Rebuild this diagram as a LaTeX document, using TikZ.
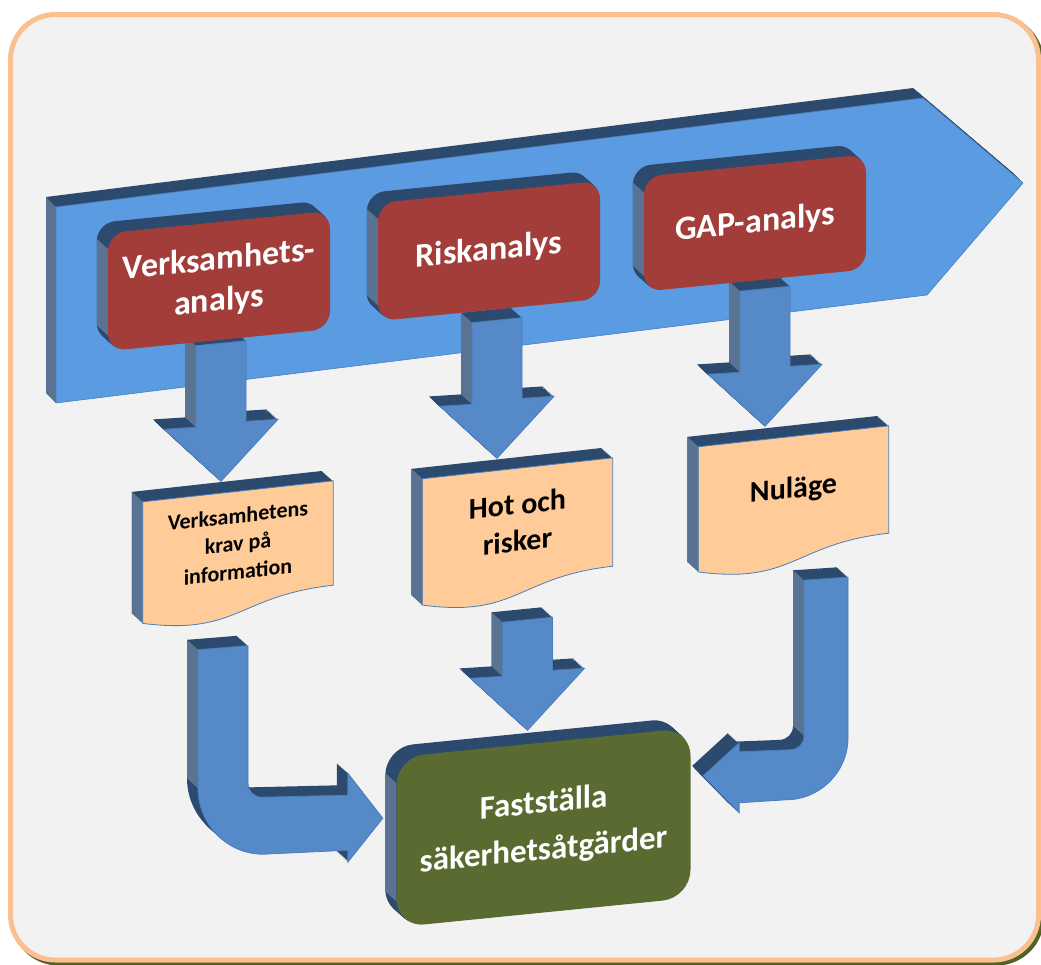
\documentclass[tikz,border=0pt]{standalone}
\usepackage{fontspec}
\setmainfont{Carlito}
\usetikzlibrary{calc}
\definecolor{ramOrange}{HTML}{FAC090}
\definecolor{ramGra}{HTML}{F2F2F2}
\definecolor{ramSkugga}{HTML}{4F6228}
\definecolor{storBla}{HTML}{5B9BE1}
\definecolor{pilBla}{HTML}{5689C8}
\definecolor{kantBla}{HTML}{4A7EBB}
\definecolor{djupBla}{HTML}{2C4A6E}
\definecolor{sidaBla}{HTML}{5B7393}
\definecolor{rodRuta}{HTML}{A23D3A}
\definecolor{gronRuta}{HTML}{596B30}
\definecolor{dokGul}{HTML}{FFCC99}
\pgfdeclarelayer{bakgrund}
\pgfdeclarelayer{djup}
\pgfsetlayers{bakgrund,djup,main}
\tikzset{
  ruta/.style={rectangle, rounded corners=18pt, fill=rodRuta, text=white,
    minimum width=222pt, minimum height=118pt, inner sep=0pt, align=center,
    font=\fontsize{34}{41}\selectfont\bfseries, yslant=0.1},
  mal/.style={ruta, fill=gronRuta, rounded corners=28pt, minimum width=294pt,
    minimum height=170pt, font=\fontsize{33}{47}\selectfont\bfseries},
  dokument/.style={rectangle, minimum width=190pt, inner sep=0pt, align=center,
    font=\fontsize{22}{28}\selectfont\bfseries, yslant=0.11},
  storText/.style={font=\fontsize{30}{37}\selectfont\bfseries},
  djupyta/.style={fill=djupBla},
  sidoyta/.style={fill=sidaBla},
  pilyta/.style={fill=pilBla, draw=kantBla, line width=0.8pt},
  dokyta/.style={fill=dokGul, draw=kantBla, line width=0.8pt},
}
\newcommand{\djup}[2][]{\foreach \k in {1,...,11}
  \fill[djupyta,#1,transform canvas={shift={(-\k,-0.9*\k)}}] #2;}
\newcommand{\storpil}{(56,207) -- (923,98) -- (1023,183) -- (927,295) -- (56,403) -- cycle}
\newcommand{\rutform}[1]{(#1.north west) -- (#1.north east) -- (#1.south east) -- (#1.south west) -- cycle}
\newcommand{\rutsida}[2]{($(#1.north west)+(0,#2)$) -- ($(#1.south west)+(0,-#2)$) -- ++(-11,-10) -- ($(#1.north west)+(-11,#2-10)$) -- cycle}
\newcommand{\dokform}[1]{(#1.north west) -- (#1.north east) -- (#1.south east)
  .. controls (#1.south) and ($(#1.north)!1.38!(#1.south)$) .. ($(#1.north west)!1.165!(#1.south west)$) -- cycle}
\newcommand{\doksida}[1]{(#1.north west) -- ($(#1.north west)!1.165!(#1.south west)$) -- ++(-11,-10) -- ($(#1.north west)+(-11,-10)$) -- cycle}
\newcommand{\pilform}[2]{let \p1=(#1), \p2=(#2) in
  (\x1-25pt,\y1-2.5pt) -- (\x1+25pt,\y1+2.5pt) -- (\x1+25pt,\y2+60pt) -- (\x1+57pt,\y2+62pt)
  -- (\x2,\y2) -- (\x1-57pt,\y2+52pt) -- (\x1-25pt,\y2+54pt) -- cycle}
\newcommand{\pilsida}[2]{let \p1=(#1), \p2=(#2) in
  (\x1-25pt,\y1-2.5pt) -- (\x1-25pt,\y2+54pt) -- ++(-11,-10) -- (\x1-36pt,\y1+7.5pt) -- cycle}
\newcommand{\bojVform}[2]{let \p1=(#1), \p2=(#2) in
  (\x1-25pt,\y1-2pt) -- (\x1+25pt,\y1+2pt) -- (\x1+25pt,\y2+35pt)
  .. controls (\x1+25pt,\y2+27pt) and (\x1+31pt,\y2+21pt) .. (\x1+39pt,\y2+21pt)
  -- (\x2-35pt,\y2+23pt) -- (\x2-35pt,\y2+45pt) -- (\x2,\y2) -- (\x2-35pt,\y2-44pt)
  -- (\x2-35pt,\y2-32pt) -- (\x1+40pt,\y2-36pt)
  .. controls (\x1+4pt,\y2-36pt) and (\x1-25pt,\y2-6pt) .. (\x1-25pt,\y2+30pt) -- cycle}
\newcommand{\bojVsida}[2]{let \p1=(#1), \p2=(#2) in
  (\x1-25pt,\y1-2pt) -- (\x1-25pt,\y2+30pt) -- ++(-11,-10) -- (\x1-36pt,\y1+8pt) -- cycle}
\newcommand{\bojHform}[2]{let \p1=(#1), \p2=(#2) in
  (\x1-22pt,\y1-2pt) -- (\x1+22pt,\y1+1pt) -- (\x1+22pt,\y2+38pt)
  .. controls (\x1+22pt,\y2+4pt) and (\x1-6pt,\y2-24pt) .. (\x1-40pt,\y2-24pt)
  -- (\x2+36pt,\y2-27pt) -- (\x2+36pt,\y2-37pt) -- (\x2,\y2) -- (\x2+36pt,\y2+33pt)
  -- (\x2+36pt,\y2+24pt) -- (\x1-36pt,\y2+26pt)
  .. controls (\x1-28pt,\y2+26pt) and (\x1-22pt,\y2+32pt) .. (\x1-22pt,\y2+40pt) -- cycle}
\newcommand{\bojHsida}[2]{let \p1=(#1), \p2=(#2) in
  (\x1-22pt,\y1-2pt) -- (\x1-22pt,\y2+40pt) -- ++(-11,-10) -- (\x1-33pt,\y1+8pt) -- cycle}

\begin{document}
\begin{tikzpicture}[x=1pt, y=-1pt]
  \useasboundingbox (0,0) rectangle (1041,964);
  \begin{pgfonlayer}{bakgrund}
    \draw[ramSkugga, line width=5pt, rounded corners=45pt] (13.5,17.5) rectangle (1041.5,963);
    \draw[ramOrange, fill=ramGra, line width=5pt, rounded corners=45pt] (10.5,14.5) rectangle (1038.5,960);
    \foreach \k in {1,...,10} \fill[djupyta, transform canvas={shift={(-\k,-\k)}}] \storpil;
    \fill[sidoyta] (56,207) -- (56,403) -- ++(-10,-10) -- (46,197) -- cycle;
    \path[fill=storBla, draw=kantBla, line width=0.6pt] \storpil;
  \end{pgfonlayer}

  \node[ruta] (va) at (219,281) {Verksamhets-\\analys};
  \node[ruta] (ra) at (489,251) {Riskanalys};
  \node[ruta, minimum height=115pt] (ga) at (755,223) {GAP-analys};
  \node[dokument, minimum height=104pt] (vk) at (238,543.5) {Verksamhetens\\krav på\\information};
  \node[dokument, storText, minimum height=108pt] (hr) at (517.5,522.5) {Hot och\\risker};
  \node[dokument, storText, minimum height=107pt] (nu) at (793.5,490) {Nuläge};
  \node[mal] (fs) at (543.5,827.5) {Fastställa\\säkerhetsåtgärder};

  \coordinate (a1s) at ($(va.south)+(2,3)$);
  \coordinate (a2s) at ($(ra.south)+(8,10)$);
  \coordinate (a3s) at ($(ga.south)+(10,8)$);
  \coordinate (a4s) at ($(hr.south)+(10,43)$);
  \coordinate (a1e) at ($(a1s |- vk.north)+(0,-10)$);
  \coordinate (a2e) at ($(a2s |- hr.north)+(0,-10)$);
  \coordinate (a3e) at ($(a3s |- nu.north)+(0,-10)$);
  \coordinate (a4e) at ($(a4s |- fs.north)+(0,-12)$);
  \coordinate (b1s) at ($(vk.south)+(-15,52)$);
  \coordinate (b1e) at ($(fs.west)+(-13.5,-24)$);
  \coordinate (b2s) at ($(nu.south)+(32.5,34.5)$);
  \coordinate (b2e) at ($(fs.east)+(12.5,-37)$);

  \begin{pgfonlayer}{djup}
    \foreach \s/\e in {a1s/a1e, a2s/a2e, a3s/a3e, a4s/a4e} {
      \djup{\pilform{\s}{\e}}
      \fill[sidoyta] \pilsida{\s}{\e};
    }
    \djup{\bojVform{b1s}{b1e}}
    \fill[sidoyta] \bojVsida{b1s}{b1e};
    \djup{\bojHform{b2s}{b2e}}
    \fill[sidoyta] \bojHsida{b2s}{b2e};
    \foreach \r in {va, ra, ga} {
      \djup[rounded corners=18pt]{\rutform{\r}}
      \fill[sidoyta] \rutsida{\r}{16};
    }
    \djup[rounded corners=28pt]{\rutform{fs}}
    \fill[sidoyta] \rutsida{fs}{26};
    \foreach \d in {vk, hr, nu} {
      \djup{\dokform{\d}}
      \fill[sidoyta] \doksida{\d};
      \path[dokyta] \dokform{\d};
    }
  \end{pgfonlayer}

  \foreach \s/\e in {a1s/a1e, a2s/a2e, a3s/a3e, a4s/a4e}
    \path[pilyta] \pilform{\s}{\e};
  \path[pilyta] \bojVform{b1s}{b1e};
  \path[pilyta] \bojHform{b2s}{b2e};
\end{tikzpicture}
\end{document}
